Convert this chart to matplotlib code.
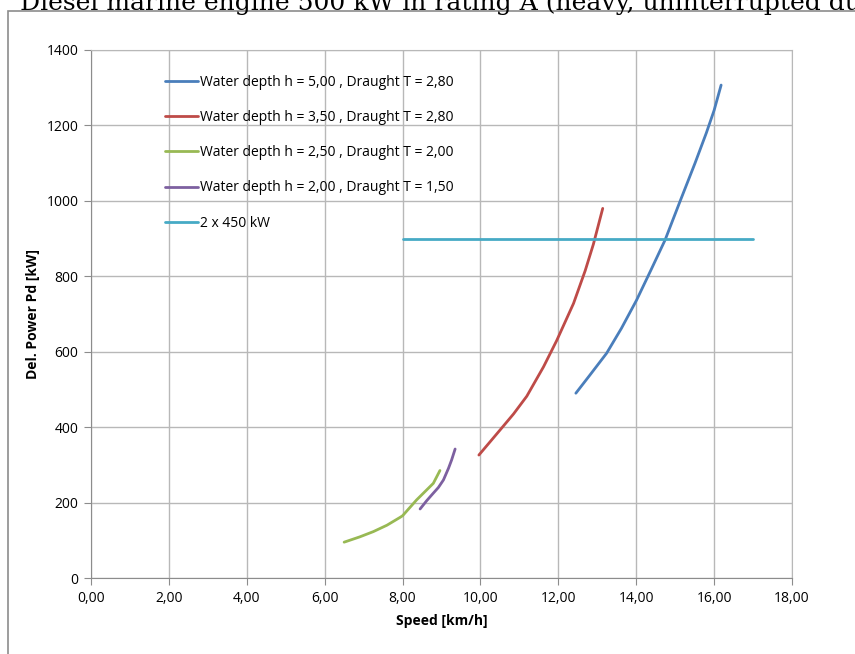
import matplotlib
matplotlib.use("Agg")
import matplotlib.pyplot as plt
from matplotlib.patches import Rectangle
from matplotlib.ticker import FuncFormatter, MultipleLocator

# Data
speed_h500 = [12.45, 12.81, 13.24, 13.62, 14.01, 14.38, 14.74, 15.13, 15.51, 15.80, 16.00, 16.18]
power_h500 = [490, 538, 596, 662, 737, 817, 896, 1000, 1100, 1180, 1240, 1307]

speed_h350 = [9.96, 10.50, 10.85, 11.19, 11.62, 11.96, 12.39, 12.69, 12.90, 13.14]
power_h350 = [326, 392, 435, 482, 560, 630, 728, 815, 885, 980]

speed_h250 = [6.50, 6.90, 7.25, 7.60, 7.94, 8.00, 8.36, 8.79, 8.96]
power_h250 = [95, 109, 123, 140, 161, 165, 207, 251, 285]

speed_h200 = [8.45, 8.62, 8.79, 8.92, 9.05, 9.18, 9.26, 9.35]
power_h200 = [183, 205, 225, 240, 260, 291, 313, 342]

speed_engine = [8.0, 17.0]
power_engine = [900, 900]

labels = [
    "Water depth h = 5,00 , Draught T = 2,80",
    "Water depth h = 3,50 , Draught T = 2,80",
    "Water depth h = 2,50 , Draught T = 2,00",
    "Water depth h = 2,00 , Draught T = 1,50",
    "2 x 450 kW",
]
colors = ["#4A7EBB", "#BE4B48", "#98B954", "#7D60A0", "#46AAC5"]

plt.rcParams["font.family"] = ["Open Sans", "DejaVu Sans"]

fig = plt.figure(figsize=(8.55, 6.54), dpi=100)

# chart frame (cut off at right/bottom like the screenshot)
fig.patches.append(Rectangle((8 / 855, -0.1), 1.2, 1 - 11 / 654 + 0.1,
                             transform=fig.transFigure, fill=False,
                             edgecolor="#8c8c8c", linewidth=1.2))

fig.text(20 / 855, 1 - 10 / 654, "Diesel marine engine 500 kW in rating A (heavy, uninterrupted duty)",
         family="DejaVu Serif", fontsize=18, va="baseline", ha="left", color="black")

ax = fig.add_axes([91 / 855, 1 - 578 / 654, (792 - 91) / 855, (578 - 50) / 654])

series = [(speed_h500, power_h500), (speed_h350, power_h350),
          (speed_h250, power_h250), (speed_h200, power_h200),
          (speed_engine, power_engine)]
for (x, y), lab, col in zip(series, labels, colors):
    ax.plot(x, y, color=col, linewidth=2.0, label=lab,
            solid_capstyle="round", solid_joinstyle="round")

ax.set_xlim(0, 18)
ax.set_ylim(0, 1400)
ax.xaxis.set_major_locator(MultipleLocator(2))
ax.yaxis.set_major_locator(MultipleLocator(200))
ax.xaxis.set_major_formatter(FuncFormatter(lambda v, p: f"{v:.2f}".replace(".", ",")))
ax.yaxis.set_major_formatter(FuncFormatter(lambda v, p: f"{v:.0f}"))
ax.grid(True, color="#b8b8b8", linewidth=1.0)
ax.set_axisbelow(True)
for s in ax.spines.values():
    s.set_color("#b8b8b8")
ax.spines["left"].set_color("#8c8c8c")
ax.spines["bottom"].set_color("#8c8c8c")
ax.tick_params(direction="out", length=5, color="#8c8c8c", labelsize=10, pad=4)

ax.set_xlabel("Speed [km/h]", fontsize=10, fontweight="bold", labelpad=6)
ax.set_ylabel("Del. Power Pd [kW]", fontsize=10, fontweight="bold", labelpad=5)

ax.legend(loc="upper left", bbox_to_anchor=(0.0976, 0.964), frameon=False,
          fontsize=10, handlelength=2.37, handletextpad=0.15, labelspacing=1.46,
          borderaxespad=0)

fig.savefig("out.png", dpi=100)
